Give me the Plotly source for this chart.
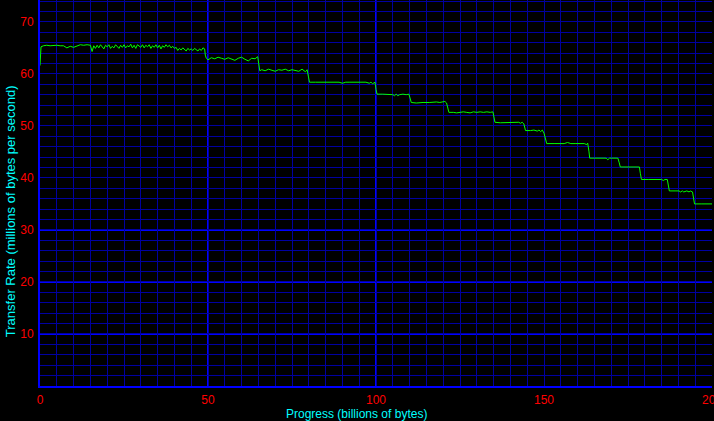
import plotly.graph_objects as go

# ---- data ----
progress_gb = [
    0, 0.3, 1, 2, 3, 4, 5, 6, 7, 8, 9, 10, 11, 12, 13, 14, 15,
    15.5, 16, 16.5, 17, 17.5, 18, 18.5, 19, 19.5, 20,
    20.5, 21, 21.5, 22, 22.5, 23, 23.5, 24, 24.5, 25,
    25.5, 26, 26.5, 27, 27.5, 28, 28.5, 29, 29.5, 30,
    30.5, 31, 31.5, 32, 32.5, 33, 33.5, 34, 34.5, 35,
    35.5, 36, 36.5, 37, 37.5, 38, 38.5, 39, 39.5, 40,
    40.5, 41, 41.5, 42, 42.5, 43, 43.5, 44, 44.5, 45,
    45.5, 46, 46.5, 47, 47.5, 48, 48.5, 49, 49.2, 49.5,
    50, 51, 52, 53, 54, 55, 56, 57, 58, 59, 60, 61, 62, 63, 64, 64.8, 65.1, 65.4,
    66, 67, 68, 69, 70, 71, 72, 73, 74, 75, 76, 77, 78, 79, 79.5, 79.9, 80.2,
    82, 84, 86, 88, 89, 90, 91, 92, 94, 96, 97, 98, 98.5, 99, 99.7, 100, 100.3,
    102, 104, 105, 105.5, 106, 106.5, 107, 108, 109, 109.8, 110.1, 110.5,
    112, 113, 114, 116, 118, 119, 120, 120.5, 121, 121.3, 121.7,
    123, 124, 125, 126, 127, 128, 129, 130, 131, 132, 133, 134, 134.8, 135.1, 135.4,
    137, 139, 140, 141, 142, 142.5, 143, 143.5, 144, 144.2, 144.5,
    146, 147, 148, 148.5, 149, 149.5, 150, 150.5, 150.8,
    153, 156, 157, 158, 159.5, 161, 162, 162.7, 163.0, 163.4,
    163.6, 165, 167, 168.5, 169, 169.5, 170, 171, 172, 172.4, 172.7,
    175, 177, 178.4, 178.7, 179,
    181, 184, 185, 185.5, 186, 186.7, 187.0, 187.3,
    189, 190.2, 190.6, 191.2, 191.6, 192.5, 193.2, 193.5, 194.2, 194.5, 194.8,
    197, 200,
]

rate_mbps = [
    61.6, 65.2, 65.4, 65.5, 65.4, 65.5, 65.5, 65.4, 65.4, 65.0, 65.3, 65.1, 65.4, 65.6, 65.5, 65.6, 65.5,
    64.3, 65.4, 64.9, 65.5, 65.0, 65.6, 65.1, 64.8, 65.5, 65.2,
    65.6, 64.9, 65.3, 65.0, 65.6, 65.2, 64.9, 65.5, 65.1, 65.6,
    65.0, 65.4, 65.2, 65.7, 65.0, 65.5, 64.9, 65.6, 65.3, 65.1,
    65.6, 65.0, 65.5, 65.2, 65.6, 64.9, 65.4, 65.1, 65.6, 65.0,
    65.5, 64.8, 65.4, 65.1, 65.6, 65.2, 65.5, 65.0, 65.3, 64.9,
    65.1, 64.5, 64.9, 64.6, 65.0, 64.7, 64.4, 64.9, 64.6, 64.8,
    64.5, 64.9, 64.6, 64.4, 64.8, 64.5, 65.0, 64.8, 63.6, 63.0,
    62.7, 63.1, 62.9, 63.2, 63.0, 62.8, 63.1, 62.9, 62.6, 63.0, 63.2, 62.8, 62.5, 63.0, 62.9, 63.3, 61.6, 60.6,
    60.8, 60.6, 60.9, 60.7, 60.5, 60.8, 60.7, 60.9, 60.6, 60.8, 60.7, 60.5, 60.9, 60.4, 60.8, 59.3, 58.4,
    58.4, 58.4, 58.4, 58.3, 58.4, 58.2, 58.4, 58.4, 58.4, 58.4, 58.4, 58.2, 58.4, 58.1, 58.4, 57.0, 56.1,
    56.1, 56.1, 56.0, 55.8, 56.1, 55.8, 56.0, 56.1, 56.0, 56.1, 55.2, 54.5,
    54.4, 54.5, 54.5, 54.5, 54.6, 54.5, 54.7, 54.7, 54.4, 53.4, 52.6,
    52.6, 52.5, 52.6, 52.7, 52.6, 52.5, 52.7, 52.6, 52.7, 52.6, 52.7, 52.6, 52.7, 51.6, 50.7,
    50.6, 50.6, 50.7, 50.6, 50.6, 50.7, 50.5, 50.7, 50.4, 49.8, 49.1,
    49.1, 49.2, 49.0, 49.2, 48.9, 49.2, 48.6, 47.5, 46.6,
    46.6, 46.6, 46.8, 46.6, 46.6, 46.6, 46.6, 46.4, 46.7, 45.0,
    43.8, 43.8, 43.8, 43.8, 43.5, 43.8, 43.8, 43.8, 43.8, 42.9, 42.1,
    42.1, 42.1, 42.1, 40.8, 39.7,
    39.7, 39.7, 39.7, 39.5, 39.7, 39.7, 38.5, 37.5,
    37.5, 37.5, 37.3, 37.5, 37.3, 37.5, 37.3, 37.5, 37.3, 35.8, 35.0,
    35.0, 35.0,
]

# grid positions (every grid line is a tick; only some carry a label)
x_grid_vals = [0, 5, 10, 15, 20, 25, 30, 35, 40, 45, 50, 55, 60, 65, 70, 75, 80, 85, 90, 95,
               100, 105, 110, 115, 120, 125, 130, 135, 140, 145, 150, 155, 160, 165, 170,
               175, 180, 185, 190, 195, 200]
x_labels = {0: "0", 50: "50", 100: "100", 150: "150", 200: "200"}
y_grid_vals = [0, 2, 4, 6, 8, 10, 12, 14, 16, 18, 20, 22, 24, 26, 28, 30, 32, 34, 36, 38,
               40, 42, 44, 46, 48, 50, 52, 54, 56, 58, 60, 62, 64, 66, 68, 70, 72, 74]
y_labels = {10: "10", 20: "20", 30: "30", 40: "40", 50: "50", 60: "60", 70: "70"}
x_bright_lines = [50, 100]
y_bright_lines = [10, 20, 30]

x_title = "Progress (billions of bytes)"
y_title = "Transfer Rate (millions of bytes per second)"

# ---- styling ----
FONT = "Liberation Sans, Arial, sans-serif"
GRID = "#0000a0"
BRIGHT = "#0000ff"

fig = go.Figure()
fig.add_trace(go.Scatter(
    x=progress_gb, y=rate_mbps, mode="lines",
    line=dict(color="#00ff00", width=1),
    hoverinfo="x+y",
))

shapes = []
for xv in x_bright_lines:
    shapes.append(dict(type="line", xref="x", yref="paper", x0=xv, x1=xv, y0=0, y1=1,
                       line=dict(color=BRIGHT, width=2), layer="below"))
for yv in y_bright_lines:
    shapes.append(dict(type="line", xref="paper", yref="y", x0=0, x1=1, y0=yv, y1=yv,
                       line=dict(color=BRIGHT, width=2), layer="below"))

fig.update_layout(
    width=714, height=421,
    paper_bgcolor="black", plot_bgcolor="black",
    margin=dict(l=40, r=2, t=0, b=35, autoexpand=False),
    showlegend=False,
    shapes=shapes,
    xaxis=dict(
        range=[0, 200], tickmode="array", tickvals=x_grid_vals,
        ticktext=[x_labels.get(v, "") for v in x_grid_vals],
        tickfont=dict(color="#ff0000", size=12, family=FONT),
        ticklabeloverflow="allow",
        showgrid=True, gridcolor=GRID, gridwidth=1,
        zeroline=False, showline=True, linecolor=BRIGHT, linewidth=2,
        ticks="outside", ticklen=2, tickcolor="black", automargin=False,
    ),
    yaxis=dict(
        range=[0, 74.2], tickmode="array", tickvals=y_grid_vals,
        ticktext=[y_labels.get(v, "") for v in y_grid_vals],
        tickfont=dict(color="#ff0000", size=12, family=FONT),
        showgrid=True, gridcolor=GRID, gridwidth=1,
        zeroline=False, showline=True, linecolor=BRIGHT, linewidth=2,
        ticks="outside", ticklen=2, tickcolor="black", automargin=False,
    ),
    annotations=[
        dict(text=x_title, xref="paper", yref="paper", x=0.4717, y=-0.0725,
             xanchor="center", yanchor="middle", showarrow=False,
             font=dict(color="#00ffff", size=12, family=FONT)),
        dict(text=y_title, xref="paper", yref="paper", x=-0.0446, y=0.453,
             xanchor="center", yanchor="middle", showarrow=False, textangle=-90,
             font=dict(color="#00ffff", size=13, family=FONT)),
    ],
)

fig.write_html(
    "out.html",
    config={"displayModeBar": False},
    post_script="document.body.style.margin='0';document.body.style.padding='0';"
                "document.body.style.background='black';",
)
